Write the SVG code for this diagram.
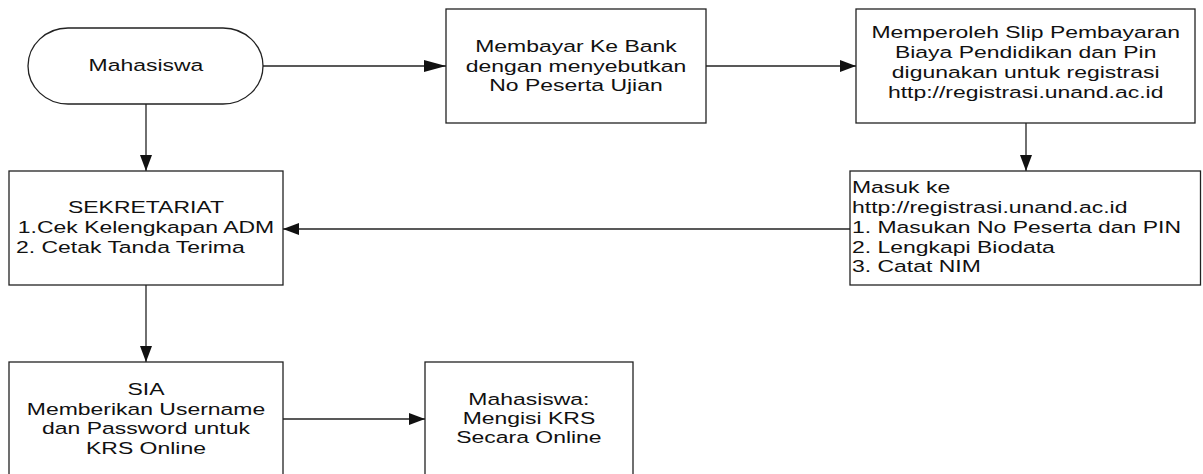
<svg xmlns="http://www.w3.org/2000/svg" width="1203" height="474" viewBox="0 0 1203 474">
<style>
.shape{fill:#fff;stroke:#222;stroke-width:1.3}
.conn{fill:none;stroke:#222;stroke-width:1.3}
text{font-family:"Liberation Sans",Arial,sans-serif;font-size:17px;fill:#111}
.c{text-anchor:middle}
.l{text-anchor:start}
</style>
<defs>
<marker id="arr" markerUnits="userSpaceOnUse" markerWidth="16" markerHeight="12" refX="16" refY="6" orient="auto">
<path d="M0,0 L16,6 L0,12 Z" fill="#111"/>
</marker>
<marker id="arrL" markerUnits="userSpaceOnUse" markerWidth="22" markerHeight="12" refX="22" refY="6" orient="auto">
<path d="M0,0 L22,6 L0,12 Z" fill="#111"/>
</marker>
</defs>
<rect width="1203" height="474" fill="#fff"/>
<g id="connectors">
<line class="conn" x1="263" y1="66" x2="446" y2="66" marker-end="url(#arrL)"/>
<line class="conn" x1="706" y1="66" x2="856" y2="66" marker-end="url(#arr)"/>
<line class="conn" x1="1026" y1="123" x2="1026" y2="171" marker-end="url(#arr)"/>
<line class="conn" x1="850" y1="229" x2="283" y2="229" marker-end="url(#arr)"/>
<line class="conn" x1="146" y1="104" x2="146" y2="171" marker-end="url(#arr)"/>
<line class="conn" x1="146" y1="285" x2="146" y2="362" marker-end="url(#arr)"/>
<line class="conn" x1="283" y1="419" x2="425" y2="419" marker-end="url(#arr)"/>
</g>
<g id="mahasiswa-start">
<rect class="shape" x="28" y="28" width="235" height="76" rx="40" ry="38"/>
<text class="c" x="146" y="71" transform="matrix(1.35,0,0,1,-51.1,0)">Mahasiswa</text>
</g>
<g id="membayar">
<rect class="shape" x="446" y="9" width="260" height="114"/>
<g transform="matrix(1.35,0,0,1,-201.6,0)">
<text class="c" x="576" y="52">Membayar Ke Bank</text>
<text class="c" x="576" y="72">dengan menyebutkan</text>
<text class="c" x="576" y="91.5">No Peserta Ujian</text>
</g>
</g>
<g id="memperoleh">
<rect class="shape" x="856" y="9" width="339" height="114"/>
<g transform="matrix(1.35,0,0,1,-359,0)">
<text class="c" x="1025.7" y="38">Memperoleh Slip Pembayaran</text>
<text class="c" x="1025.7" y="58">Biaya Pendidikan dan Pin</text>
<text class="c" x="1025.7" y="78">digunakan untuk registrasi</text>
<text class="c" x="1025.7" y="98">http://registrasi.unand.ac.id</text>
</g>
</g>
<g id="masuk">
<rect class="shape" x="850" y="171" width="350.5" height="114"/>
<g transform="matrix(1.35,0,0,1,-298.2,0)">
<text class="l" x="852" y="193.5">Masuk ke</text>
<text class="l" x="852" y="213">http://registrasi.unand.ac.id</text>
<text class="l" x="852" y="233">1. Masukan No Peserta dan PIN</text>
<text class="l" x="852" y="253">2. Lengkapi Biodata</text>
<text class="l" x="852" y="272">3. Catat NIM</text>
</g>
</g>
<g id="sekretariat">
<rect class="shape" x="9" y="171" width="274" height="114"/>
<text class="c" x="146" y="213" transform="matrix(1.35,0,0,1,-51.1,0)">SEKRETARIAT</text>
<text class="c" x="146" y="233" transform="matrix(1.35,0,0,1,-51.1,0)">1.Cek Kelengkapan ADM</text>
<text class="l" x="16" y="253" transform="matrix(1.35,0,0,1,-5.6,0)">2. Cetak Tanda Terima</text>
</g>
<g id="sia">
<rect class="shape" x="9" y="362" width="274" height="116"/>
<g transform="matrix(1.35,0,0,1,-51.1,0)">
<text class="c" x="146" y="395">SIA</text>
<text class="c" x="146" y="415">Memberikan Username</text>
<text class="c" x="146" y="434">dan Password untuk</text>
<text class="c" x="146" y="454">KRS Online</text>
</g>
</g>
<g id="mahasiswa-krs">
<rect class="shape" x="425" y="362" width="208" height="116"/>
<g transform="matrix(1.35,0,0,1,-185.2,0)">
<text class="c" x="529" y="405">Mahasiswa:</text>
<text class="c" x="529" y="424">Mengisi KRS</text>
<text class="c" x="529" y="443">Secara Online</text>
</g>
</g>
</svg>
